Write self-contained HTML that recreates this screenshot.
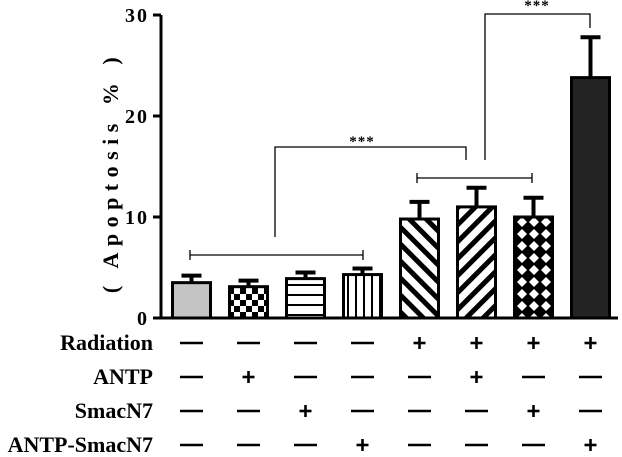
<!DOCTYPE html>
<html><head><meta charset="utf-8"><style>
html,body{margin:0;padding:0;background:#fff;}
svg{display:block;font-family:"Liberation Serif",serif;}
</style></head><body>
<svg id="chart" width="622" height="457" viewBox="0 0 622 457">
<defs>
<pattern id="checker" width="12" height="12" patternUnits="userSpaceOnUse">
<rect width="12" height="12" fill="#fff"/><rect width="6" height="6" fill="#000"/><rect x="6" y="6" width="6" height="6" fill="#000"/></pattern>
<pattern id="hstripe" width="10" height="10" patternUnits="userSpaceOnUse">
<rect width="10" height="10" fill="#fff"/><rect y="4" width="10" height="2" fill="#000"/></pattern>
<pattern id="vstripe" width="8" height="10" patternUnits="userSpaceOnUse">
<rect width="8" height="10" fill="#fff"/><rect x="3" width="2" height="10" fill="#000"/></pattern>
<pattern id="diagL" width="12" height="12" patternUnits="userSpaceOnUse" patternTransform="rotate(45)">
<rect width="12" height="12" fill="#fff"/><rect width="5" height="12" fill="#000"/></pattern>
<pattern id="diagR" width="12" height="12" patternUnits="userSpaceOnUse" patternTransform="rotate(-45)">
<rect width="12" height="12" fill="#fff"/><rect width="5" height="12" fill="#000"/></pattern>
<pattern id="diamond" width="12" height="12" patternUnits="userSpaceOnUse">
<rect width="12" height="12" fill="#000"/><polygon points="6,1 11,6 6,11 1,6" fill="#fff"/></pattern>
</defs>
<g id="plot"></g>
</svg>
<script>
const categories = ["Control","ANTP","SmacN7","ANTP-SmacN7","Radiation","Radiation+ANTP","Radiation+SmacN7","Radiation+ANTP-SmacN7"];
const means = [3.5, 3.1, 3.9, 4.3, 9.8, 11.0, 10.0, 23.8];
const errors = [0.7, 0.6, 0.6, 0.6, 1.7, 1.9, 1.9, 4.0];
const yTicks = [0, 10, 20, 30];
const rowLabels = ["Radiation","ANTP","SmacN7","ANTP-SmacN7"];
const radiationRow = [0,0,0,0,1,1,1,1];
const antpRow = [0,1,0,0,0,1,0,0];
const smacRow = [0,0,1,0,0,0,1,0];
const antpSmacRow = [0,0,0,1,0,0,0,1];
const rows = [radiationRow, antpRow, smacRow, antpSmacRow];
const fills = ["#c4c4c4","url(#checker)","url(#hstripe)","url(#vstripe)","url(#diagR)","url(#diagL)","url(#diamond)","#232323"];

const NS = "http://www.w3.org/2000/svg";
const g = document.getElementById("plot");
const x0 = 161, yBase = 318, yTop = 15, yMax = 30;
const y = v => yBase - (v / yMax) * (yBase - yTop);
const xc = i => 191.5 + i * 57;
const bw = 38;
function mk(tag, attrs, parent) {
  const e = document.createElementNS(NS, tag);
  for (const k in attrs) e.setAttribute(k, attrs[k]);
  (parent || g).appendChild(e);
  return e;
}
let ax = mk("line", {x1:x0, y1:yTop, x2:x0, y2:yBase+1, stroke:"#000", "stroke-width":3});


let xa = mk("line", {x1:x0-1, y1:yBase, x2:618, y2:yBase, stroke:"#000", "stroke-width":3});


yTicks.forEach(t => {
  const tk = mk("line", {x1:x0-8, y1:y(t), x2:x0, y2:y(t), stroke:"#000", "stroke-width":3});
  
  
  const tl = mk("text", {x:x0-12, y:y(t)+7, "text-anchor":"end", "font-size":20, "font-weight":"bold", "letter-spacing":"2"});
  tl.textContent = String(t);
  
  
});
const yt = mk("text", {x:0, y:0, transform:"translate(118,172) rotate(-90)", "text-anchor":"middle", "font-size":22, "font-weight":"bold", "letter-spacing":"6.5"});
yt.textContent = "( Apoptosis % )";


means.forEach((m, i) => {
  const cx = xc(i);
  const eb = mk("g", {});
  
  
  mk("line", {x1:cx, y1:y(m), x2:cx, y2:y(m+errors[i]), stroke:"#000", "stroke-width":4}, eb);
  mk("line", {x1:cx-10, y1:y(m+errors[i]), x2:cx+10, y2:y(m+errors[i]), stroke:"#000", "stroke-width":4}, eb);
  const b = mk("rect", {x:cx-bw/2, y:y(m), width:bw, height:yBase-y(m), fill:fills[i], stroke:"#000", "stroke-width":3});
  
  
});
function path(d, name) {
  const p = mk("path", {d:d, fill:"none", stroke:"#000", "stroke-width":1.3});
  
  
}
path("M190,250 V260 M190,255 H363 M363,250 V260", "bracket-non-radiation-groups");
path("M417,173 V183 M417,178 H532 M532,173 V183", "bracket-radiation-groups");
path("M275,237 V147 H466 V160", "bracket-significance-1");
path("M485,160 V14 H590 V28", "bracket-significance-2");
[[362,146],[537,10]].forEach(p => {
  const s = mk("text", {x:p[0], y:p[1], "text-anchor":"middle", "font-size":15, "font-weight":"bold", "letter-spacing":"1"});
  s.textContent = "***";
  
  
});
const rowY = [343, 377, 411, 445];
rowLabels.forEach((lab, r) => {
  const t = mk("text", {x:153, y:rowY[r]+7, "text-anchor":"end", "font-size":22, "font-weight":"bold"});
  t.textContent = lab;
  
  
  rows[r].forEach((v, i) => {
    const cx = xc(i), cy = rowY[r];
    const sg = mk("g", {stroke:"#000", "stroke-width":2.6});
    
    
    if (v) {
      mk("line", {x1:cx-6, y1:cy, x2:cx+6, y2:cy}, sg);
      mk("line", {x1:cx, y1:cy-6, x2:cx, y2:cy+6}, sg);
    } else {
      mk("line", {x1:cx-11.5, y1:cy, x2:cx+11.5, y2:cy}, sg);
    }
  });
});
</script>
</body></html>
